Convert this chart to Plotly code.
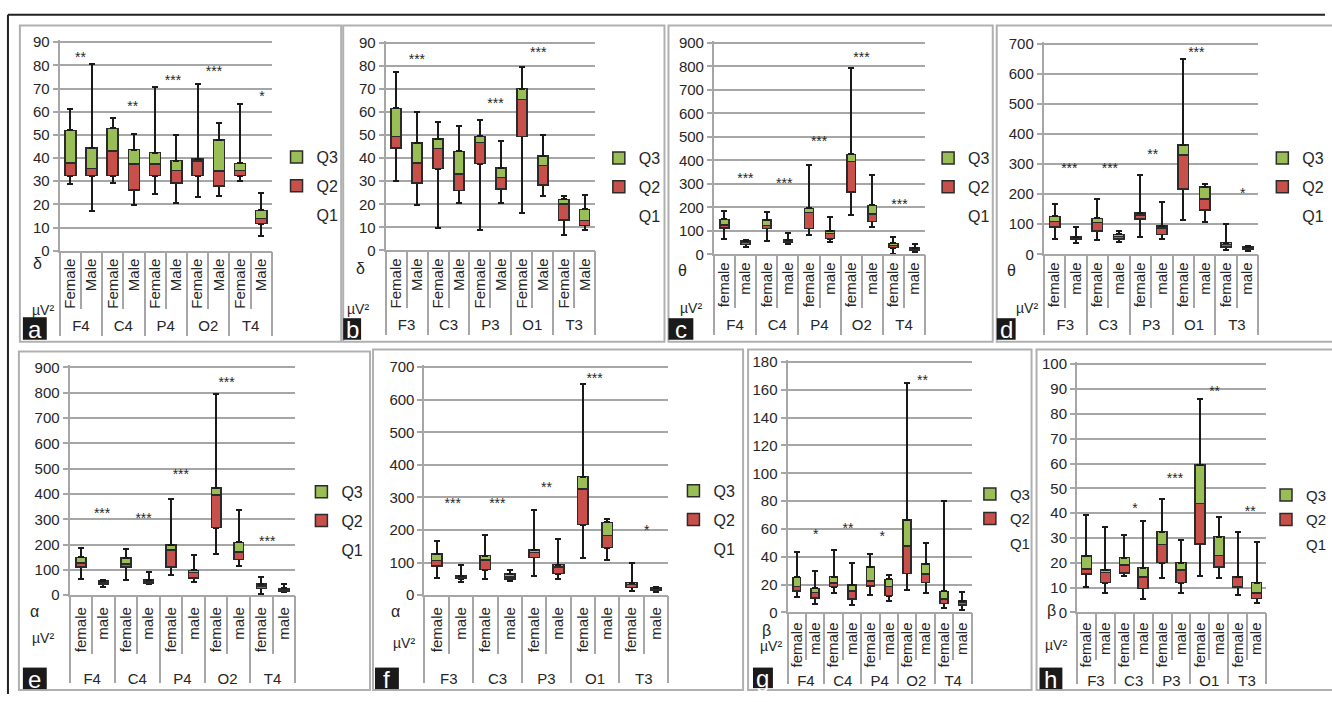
import plotly.graph_objects as go

W, H = 1332, 702
FONT = "Liberation Sans, Arial, sans-serif"
GREEN = "#98be55"
RED = "#c8504b"
EDGE = "#2b2b2b"
GRID = "#a6a6a6"
FRAME = "#b0b0b0"
TXT = "#262626"
WHISK = "#1a1a1a"

RIGHT_SITES = ["F4", "C4", "P4", "O2", "T4"]
LEFT_SITES = ["F3", "C3", "P3", "O1", "T3"]
SEX_CAP = ["Female", "Male"]
SEX_LOW = ["female", "male"]

# ---- a: delta, right hemisphere (order F4 F, F4 M, C4 F, C4 M, ...)
a_min = [28.6, 17.1, 29.1, 19.6, 24.5, 20.6, 23.1, 23.7, 30.0, 6.2]
a_q1 = [32.4, 32.4, 32.4, 26.2, 32.4, 29.3, 32.4, 27.9, 32.4, 11.7]
a_med = [37.8, 35.5, 43.0, 37.5, 37.5, 34.7, 38.7, 34.3, 34.6, 13.8]
a_q3 = [51.9, 44.3, 52.8, 43.6, 42.3, 38.9, 39.6, 47.7, 37.7, 17.4]
a_max = [61.2, 80.5, 57.3, 50.2, 70.5, 50.1, 71.9, 55.2, 63.3, 24.8]
a_star_x = [0.48, 2.94, 4.84, 6.77, 9.03]
a_star_y = [82.8, 61.6, 73.2, 77.1, 66.1]
a_star_t = ["**", "**", "***", "***", "*"]

# ---- b: delta, left hemisphere
b_min = [30.3, 19.7, 9.6, 20.7, 8.9, 20.7, 16.0, 23.8, 6.8, 8.9]
b_q1 = [44.4, 29.2, 35.5, 26.0, 37.6, 26.6, 49.5, 28.3, 13.2, 10.8]
b_med = [49.4, 37.8, 44.3, 33.1, 46.7, 31.6, 65.5, 36.8, 20.2, 12.9]
b_q3 = [61.6, 46.6, 48.3, 43.0, 49.5, 35.7, 70.2, 40.9, 22.1, 17.8]
b_max = [77.5, 60.0, 55.8, 54.1, 56.7, 47.5, 79.7, 50.1, 23.8, 24.1]
b_star_x = [0.99, 4.74, 6.78]
b_star_y = [82.3, 63.2, 85.2]
b_star_t = ["***", "***", "***"]

# ---- c: theta, right hemisphere
c_min = [65, 29, 58, 42, 81, 53, 167, 115, 2, 10]
c_q1 = [111, 42, 110, 50, 110, 67, 265, 140, 28, 17]
c_med = [124, 50, 122, 56, 178, 89, 396, 172, 38, 22]
c_q3 = [149, 57, 147, 61, 196, 99, 425, 208, 46, 28]
c_max = [185, 62, 179, 92, 382, 160, 794, 338, 74, 43]
c_star_x = [0.99, 2.83, 4.48, 6.49, 8.29]
c_star_y = [318, 298, 474, 835, 207]
c_star_t = ["***", "***", "***", "***", "***"]

# ---- d: theta, left hemisphere
d_min = [50.9, 37.9, 47.7, 41.2, 56.3, 50.9, 114.9, 106.2, 13.0, 10.8]
d_q1 = [89.9, 49.8, 78.0, 50.9, 117.0, 66.1, 216.7, 146.3, 23.8, 17.3]
d_med = [108.4, 53.1, 106.2, 58.5, 130.0, 86.7, 330.5, 184.2, 32.5, 20.6]
d_q3 = [125.7, 57.4, 119.2, 66.1, 136.5, 93.2, 363.0, 224.3, 39.0, 24.9]
d_max = [165.8, 92.1, 183.1, 78.0, 262.2, 173.4, 650.1, 233.0, 99.7, 27.1]
d_star_x = [0.69, 2.58, 4.58, 6.61, 8.77]
d_star_y = [280, 280, 329, 667, 199]
d_star_t = ["***", "***", "**", "***", "*"]

# ---- e: alpha, right hemisphere
e_min = [65.8, 33.5, 59.3, 42.5, 81.2, 52.9, 163.7, 114.8, 3.9, 12.9]
e_q1 = [112.2, 42.5, 112.2, 49.0, 110.9, 67.0, 266.9, 141.8, 27.1, 16.8]
e_med = [127.6, 49.0, 122.5, 54.2, 177.9, 89.0, 395.8, 171.5, 36.1, 21.9]
e_q3 = [149.6, 55.4, 147.0, 60.6, 197.3, 98.0, 422.9, 208.9, 43.8, 27.1]
e_max = [187.0, 59.3, 180.5, 90.3, 381.6, 159.9, 794.2, 337.8, 73.5, 43.8]
e_star_x = [0.94, 2.78, 4.43, 6.46, 8.26]
e_star_y = [318, 297, 471, 835, 207]
e_star_t = ["***", "***", "***", "***", "***"]

# ---- f: alpha, left hemisphere
f_min = [52.1, 39.1, 48.1, 42.1, 58.1, 51.1, 115.2, 107.1, 14.0, 10.0]
f_q1 = [90.1, 51.1, 78.1, 50.1, 116.2, 66.1, 216.3, 146.2, 24.0, 16.0]
f_med = [107.1, 55.1, 108.2, 56.1, 131.2, 87.1, 326.5, 183.3, 33.0, 19.0]
f_q3 = [126.2, 59.1, 121.2, 65.1, 138.2, 94.1, 363.5, 223.3, 38.1, 23.0]
f_max = [165.2, 94.1, 183.3, 78.1, 262.4, 173.2, 649.0, 233.3, 98.1, 26.0]
f_star_x = [0.66, 2.49, 4.51, 6.48, 8.62]
f_star_y = [277, 277, 327, 662, 196]
f_star_t = ["***", "***", "**", "***", "*"]

# ---- g: beta, right hemisphere
g_min = [11.2, 6.1, 14.3, 5.4, 12.7, 8.2, 15.9, 14.1, 3.0, 1.9]
g_q1 = [15.5, 10.3, 18.5, 9.6, 19.0, 12.2, 28.1, 21.6, 6.6, 5.2]
g_med = [18.7, 14.3, 21.3, 15.5, 22.5, 18.5, 47.8, 27.7, 9.6, 7.3]
g_q3 = [25.3, 17.3, 25.8, 19.7, 32.8, 23.7, 66.3, 34.7, 15.2, 8.4]
g_max = [43.1, 30.0, 44.8, 35.2, 41.7, 27.2, 165.0, 49.9, 80.2, 15.0]
g_star_x = [1.03, 2.78, 4.64, 6.83]
g_star_y = [55.0, 59.6, 53.8, 165.8]
g_star_t = ["*", "**", "*", "**"]

# ---- h: beta, left hemisphere
h_min = [10.1, 8.0, 14.6, 5.5, 13.7, 7.9, 14.6, 13.8, 7.1, 3.7]
h_q1 = [15.5, 12.0, 16.0, 9.7, 20.1, 12.0, 27.6, 18.3, 10.2, 5.7]
h_med = [17.6, 16.2, 19.2, 14.3, 27.3, 17.2, 43.8, 23.0, 14.3, 7.8]
h_q3 = [22.7, 17.1, 22.1, 18.1, 32.6, 20.1, 59.5, 30.6, 14.3, 12.0]
h_max = [39.4, 34.6, 31.4, 36.8, 45.9, 29.3, 85.8, 38.6, 32.6, 28.3]
h_star_x = [2.57, 4.68, 6.78, 8.66]
h_star_y = [41.6, 53.7, 88.5, 40.3]
h_star_t = ["*", "***", "**", "**"]

# ---- layout geometry (pixels)
PANELS = [
    dict(tag="a", sites=RIGHT_SITES, sex=SEX_CAP, stats=(a_min, a_q1, a_med, a_q3, a_max),
         stars=(a_star_x, a_star_y, a_star_t), ymax=90, dtick=10,
         box=(60, 36, 273.3, 249), ticklen=56, divlen=84, grp=76, lab=0,
         frame=(20, 19, 343, 342), tagbox=(23, 317, 47, 340), sym="δ", sym_xy=(38, 262),
         unit_xy=(43, 310), leg=(298, 153), legfont=16, leggap=5, bw=0.52),
    dict(tag="b", sites=LEFT_SITES, sex=SEX_CAP, stats=(b_min, b_q1, b_med, b_q3, b_max),
         stars=(b_star_x, b_star_y, b_star_t), ymax=90, dtick=10,
         box=(387.7, 36.7, 598.3, 248.7), ticklen=56, divlen=84, grp=76, lab=0,
         frame=(345, 19, 668, 342), tagbox=(345, 318, 363, 340), sym="δ", sym_xy=(362, 267),
         unit_xy=(360, 309), leg=(622, 154), legfont=16, leggap=5, bw=0.48),
    dict(tag="c", sites=RIGHT_SITES, sex=SEX_LOW, stats=(c_min, c_q1, c_med, c_q3, c_max),
         stars=(c_star_x, c_star_y, c_star_t), ymax=900, dtick=100,
         box=(717.7, 36.7, 930, 252.7), ticklen=52, divlen=80, grp=72, lab=0,
         frame=(672, 19, 998, 342), tagbox=(672, 318, 697, 340), sym="θ", sym_xy=(686, 269),
         unit_xy=(695, 308), leg=(953, 154), legfont=16, leggap=5, bw=0.42),
    dict(tag="d", sites=LEFT_SITES, sex=SEX_LOW, stats=(d_min, d_q1, d_med, d_q3, d_max),
         stars=(d_star_x, d_star_y, d_star_t), ymax=700, dtick=100,
         box=(1049.3, 37.3, 1265, 252.7), ticklen=52, divlen=80, grp=72, lab=0,
         frame=(1002, 19, 1345, 342), tagbox=(1002, 318, 1021, 340), sym="θ", sym_xy=(1017, 269),
         unit_xy=(1032, 308), leg=(1289, 154), legfont=16, leggap=5, bw=0.49),
    dict(tag="e", sites=RIGHT_SITES, sex=SEX_LOW, stats=(e_min, e_q1, e_med, e_q3, e_max),
         stars=(e_star_x, e_star_y, e_star_t), ymax=900, dtick=100,
         box=(70, 368.3, 296.7, 601), ticklen=57, divlen=87, grp=85, lab=4,
         frame=(19, 352, 372, 698), tagbox=(23, 675, 47, 697), sym="α", sym_xy=(35, 618),
         unit_xy=(43, 645), leg=(323, 495), legfont=16, leggap=5, bw=0.44),
    dict(tag="f", sites=LEFT_SITES, sex=SEX_LOW, stats=(f_min, f_q1, f_med, f_q3, f_max),
         stars=(f_star_x, f_star_y, f_star_t), ymax=700, dtick=100,
         box=(426.7, 368, 671.7, 601), ticklen=57, divlen=87, grp=85, lab=4,
         frame=(375, 350, 747, 698), tagbox=(377, 675, 401, 697), sym="α", sym_xy=(398, 618),
         unit_xy=(406, 650), leg=(697, 494), legfont=16, leggap=5, bw=0.44),
    dict(tag="g", sites=RIGHT_SITES, sex=SEX_LOW, stats=(g_min, g_q1, g_med, g_q3, g_max),
         stars=(g_star_x, g_star_y, g_star_t), ymax=180, dtick=20,
         box=(791.7, 362.7, 976.7, 618.7), ticklen=46, divlen=71, grp=70, lab=2,
         frame=(752, 350, 1037, 698), tagbox=(757, 675, 777, 696), sym="β", sym_xy=(771, 637),
         unit_xy=(775, 653), leg=(995, 498), legfont=15, leggap=2, bw=0.43),
    dict(tag="h", sites=LEFT_SITES, sex=SEX_LOW, stats=(h_min, h_q1, h_med, h_q3, h_max),
         stars=(h_star_x, h_star_y, h_star_t), ymax=100, dtick=10,
         box=(1082.7, 365, 1272.7, 618.7), ticklen=46, divlen=71, grp=70, lab=2,
         frame=(1042, 350, 1345, 698), tagbox=(1045, 675, 1068, 697), sym="β", sym_xy=(1057, 617),
         unit_xy=(1062, 652), leg=(1293, 499), legfont=15, leggap=2, bw=0.53),
]


def px(x):
    return x / W


def py(y):
    return 1 - y / H


fig = go.Figure()
layout = {}
shapes = []
annotations = []
tickfont = dict(family=FONT, size=15, color=TXT)

for i, p in enumerate(PANELS, start=1):
    sfx = "" if i == 1 else str(i)
    xa, ya = "x" + sfx, "y" + sfx
    ov = str(i + 8)
    legkey = "legend" if i == 1 else f"legend{i}"
    mn, q1, md, q3, mx = p["stats"]
    ids = [f"{s} {g}" for s in p["sites"] for g in p["sex"]]
    labels = [g for s in p["sites"] for g in p["sex"]]
    n = len(ids)
    common = dict(x=ids, xaxis=xa, yaxis=ya, width=p["bw"], legend=legkey, hoverinfo="skip")

    # invisible Q1 base with lower whisker
    fig.add_trace(go.Bar(
        y=q1, name="Q1", legendgroup=p["tag"] + "q1", legendrank=3,
        marker=dict(color="rgba(0,0,0,0)", line=dict(width=0)),
        error_y=dict(type="data", symmetric=False, array=[0] * n,
                     arrayminus=[a - b for a, b in zip(q1, mn)],
                     color=WHISK, thickness=2, width=3),
        **common))
    # Q2 segment (Q1 -> median)
    fig.add_trace(go.Bar(
        y=[m - a for m, a in zip(md, q1)], name="Q2", legendgroup=p["tag"] + "q2", legendrank=2,
        marker=dict(color=RED, line=dict(color=EDGE, width=1.5)),
        **common))
    # Q3 segment (median -> Q3) with upper whisker
    fig.add_trace(go.Bar(
        y=[b - m for b, m in zip(q3, md)], name="Q3", legendgroup=p["tag"] + "q3", legendrank=1,
        marker=dict(color=GREEN, line=dict(color=EDGE, width=1.5)),
        error_y=dict(type="data", symmetric=False, array=[c - b for c, b in zip(mx, q3)],
                     arrayminus=[0] * n, color=WHISK, thickness=2, width=3),
        **common))
    # significance stars
    sx, sy, st = p["stars"]
    fig.add_trace(go.Scatter(
        x=sx, y=sy, text=st, mode="text", xaxis="x" + ov, yaxis=ya,
        textfont=dict(family=FONT, size=14, color=TXT), showlegend=False, hoverinfo="skip"))

    x0, yt, x1, yb = p["box"]
    ppu = (yb - yt) / p["ymax"]
    top_px = yt - 2
    yrange_max = p["ymax"] + 2 / ppu
    centers = [2 * k + 0.5 for k in range(len(p["sites"]))]
    bounds = [2 * k - 0.5 for k in range(len(p["sites"]) + 1)]

    layout["xaxis" + sfx] = dict(
        type="category", domain=[px(x0), px(x1)], anchor=ya, range=[-0.5, n - 0.5],
        categoryorder="array", categoryarray=ids, tickmode="array", tickvals=ids, ticktext=labels,
        tickangle=-90, ticks="outside", tickson="boundaries", ticklen=p["ticklen"], tickwidth=2,
        tickcolor=GRID, ticklabelstandoff=p["lab"], showline=True, linecolor=GRID,
        linewidth=2, showgrid=False, zeroline=False, tickfont=tickfont, fixedrange=True)
    layout["xaxis" + ov] = dict(
        overlaying=xa, anchor=ya, range=[-0.5, n - 0.5], tickmode="array", tickvals=centers,
        ticktext=p["sites"], tickangle=0, ticks="", ticklabelstandoff=p["grp"] - 12,
        minor=dict(tickmode="array", tickvals=bounds, ticks="outside", ticklen=p["divlen"],
                   tickwidth=2, tickcolor=GRID, showgrid=False),
        showline=False, showgrid=False, zeroline=False, tickfont=tickfont, fixedrange=True)
    layout["yaxis" + sfx] = dict(
        domain=[py(yb), py(top_px)], anchor=xa, range=[0, yrange_max], tickmode="linear",
        tick0=0, dtick=p["dtick"], showgrid=True, gridcolor=GRID, gridwidth=2, showline=True,
        linecolor=GRID, linewidth=2, ticks="outside", ticklen=5, tickwidth=2, tickcolor=GRID,
        zeroline=False, tickfont=tickfont, fixedrange=True)

    lx, ly = p["leg"]
    layout[legkey] = dict(
        x=px(lx - 20), y=py(ly - 17), xanchor="left", yanchor="top",
        bgcolor="rgba(0,0,0,0)", borderwidth=0, traceorder="grouped",
        tracegroupgap=p["leggap"], font=dict(family=FONT, size=p["legfont"], color=TXT),
        itemclick=False, itemdoubleclick=False)

    # panel frame
    fx0, fy0, fx1, fy1 = p["frame"]
    shapes.append(dict(type="rect", xref="paper", yref="paper", x0=px(fx0), x1=px(fx1),
                       y0=py(fy1), y1=py(fy0), line=dict(color=FRAME, width=2),
                       fillcolor="rgba(0,0,0,0)", layer="below"))
    # panel letter box
    tx0, ty0, tx1, ty1 = p["tagbox"]
    shapes.append(dict(type="rect", xref="paper", yref="paper", x0=px(tx0), x1=px(tx1),
                       y0=py(ty1), y1=py(ty0), line=dict(width=0), fillcolor="#1a1a1a",
                       layer="above"))
    annotations.append(dict(text=p["tag"], xref="paper", yref="paper",
                            x=px((tx0 + tx1) / 2), y=py((ty0 + ty1) / 2 + 1),
                            xanchor="center", yanchor="middle", showarrow=False,
                            font=dict(family=FONT, size=24, color="white")))
    # band symbol and unit
    annotations.append(dict(text=p["sym"], xref="paper", yref="paper",
                            x=px(p["sym_xy"][0]), y=py(p["sym_xy"][1]),
                            xanchor="center", yanchor="middle", showarrow=False,
                            font=dict(family=FONT, size=16, color=TXT)))
    annotations.append(dict(text="µV²", xref="paper", yref="paper",
                            x=px(p["unit_xy"][0]), y=py(p["unit_xy"][1]),
                            xanchor="center", yanchor="middle", showarrow=False,
                            font=dict(family=FONT, size=14, color=TXT)))

# outer dark frame lines
shapes.append(dict(type="line", xref="paper", yref="paper", x0=px(8), x1=1.0, y0=py(8), y1=py(8),
                   line=dict(color="#222222", width=2)))
shapes.append(dict(type="line", xref="paper", yref="paper", x0=px(8), x1=px(8), y0=py(8), y1=0,
                   line=dict(color="#222222", width=2)))

fig.update_layout(
    width=W, height=H, autosize=False,
    margin=dict(l=0, r=0, t=0, b=0),
    paper_bgcolor="white", plot_bgcolor="white",
    barmode="stack", hovermode=False, showlegend=True,
    shapes=shapes, annotations=annotations,
    font=dict(family=FONT, color=TXT),
    **layout)

fig.write_html("out.html", config={"displayModeBar": False},
               post_script="document.body.style.margin='0';")
